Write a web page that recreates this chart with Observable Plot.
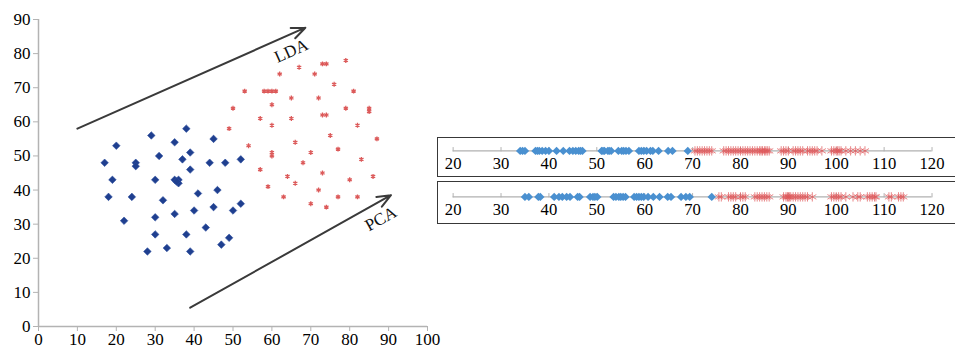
<!DOCTYPE html>
<html>
<head>
<meta charset="utf-8">
<script src="https://cdn.jsdelivr.net/npm/d3@7"></script>
<script src="https://cdn.jsdelivr.net/npm/@observablehq/plot@0.6"></script>
<style>
  html, body { margin: 0; padding: 0; background: #fff; overflow: hidden; }
  #wrap { position: relative; width: 955px; height: 348px; overflow: hidden; font-family: "Liberation Serif", serif; }
  .abs { position: absolute; }
  .box { position: absolute; box-sizing: border-box; border: 1.5px solid #383838; }
  svg text { font-family: "Liberation Serif", serif !important; }
</style>
</head>
<body>
<div id="wrap">
  <div class="box" style="left:437px; top:137px; width:600px; height:40px;"></div>
  <div class="box" style="left:437px; top:181px; width:600px; height:43px;"></div>
  <div id="main" class="abs" style="left:0; top:0;"></div>
  <div id="s1" class="abs" style="left:437px; top:137px;"></div>
  <div id="s2" class="abs" style="left:437px; top:183px;"></div>
</div>
<script>
// ---- scatter data (class 1: blue diamonds, class 2: red stars)
const blueX = [17, 20, 19, 18, 25, 25, 24, 22, 29, 31, 30, 32, 30, 30, 28, 33, 35, 38, 39, 37, 39, 35, 36, 36, 35.5, 35, 38, 39, 41, 40, 43, 45, 44, 46, 45, 47, 49, 48, 50, 52, 52];
const blueY = [48, 53, 43, 38, 48, 47, 38, 31, 56, 50, 43, 37, 32, 27, 22, 23, 54, 58, 51, 49, 46, 43, 43, 42, 42.5, 33, 27, 22, 39, 34, 29, 55, 48, 40, 35, 24, 26, 48, 34, 49, 36];
const redX = [49, 50, 53, 54, 57, 57, 59, 58, 59, 60, 61, 60, 60, 60, 60, 62, 63, 64, 65, 65, 66, 66, 67, 68, 70, 70, 71, 72, 72, 73, 74, 73, 74, 73, 74, 75, 76, 77, 77, 79, 79, 80, 81, 82, 82, 83, 85, 85, 86, 87];
const redY = [58, 64, 69, 53, 61, 46, 41, 69, 69, 69, 69, 65, 59, 51, 50, 74, 38, 44, 67, 61, 54, 42, 76, 48, 51, 36, 74, 67, 40, 77, 77, 62, 62, 45, 35, 56, 71, 52, 38, 78, 64, 43, 69, 59, 38, 49, 64, 63, 44, 55];

// ---- projection arrows and labels
const arrowNames = ["LDA", "PCA"];
const arrowX1 = [10, 39];
const arrowY1 = [58, 5.5];
const arrowX2 = [68.6, 90.6];
const arrowY2 = [87.6, 38.5];
const labelX = [65, 88];
const labelY = [80.8, 31.6];
const labelAngle = [-24, -29];

// ---- ticks
const xTicks = [0, 10, 20, 30, 40, 50, 60, 70, 80, 90, 100];
const yTicks = [0, 10, 20, 30, 40, 50, 60, 70, 80, 90];
const stripTicks = [20, 30, 40, 50, 60, 70, 80, 90, 100, 110, 120];

// ---- 1-D projections (top: LDA, bottom: PCA)
const ldaBlue = [34, 34.5, 35, 37.2, 37.6, 38, 38.6, 39.3, 40, 41.6, 43, 44.3, 45, 45.6, 46.2, 46.6, 47, 51, 51.3, 51.6, 52.3, 52.6, 53, 54.5, 55.2, 55.6, 56.1, 56.7, 58.8, 59.3, 59.8, 60.4, 61.2, 61.7, 62.9, 64.9, 65.8, 69];
const ldaRed = [70.5, 71, 71.5, 72, 72.5, 73, 73.5, 74, 76.5, 77, 77.5, 78, 78.5, 79, 79.5, 80, 80.5, 81, 81.5, 82, 82.5, 83, 83.5, 84, 84.3, 84.6, 85, 85.3, 85.6, 86, 88.5, 89, 89.5, 90, 91, 91.5, 92, 92.5, 93, 94, 94.5, 95, 95.5, 96, 97, 99, 99.5, 100, 100.3, 100.6, 101, 102, 103, 104, 105, 106];
const pcaBlue = [35, 35.8, 37.8, 38.2, 41.1, 42.1, 42.8, 43.7, 44.4, 46, 46.4, 48.6, 49.2, 49.6, 50.1, 53.5, 54, 54.6, 55, 55.5, 56, 57.8, 58.3, 58.8, 59.3, 59.8, 60.7, 61.8, 63.1, 64.8, 65.5, 67.6, 68.6, 69.4, 74];
const pcaRed = [75.5, 76, 77.5, 78, 78.5, 79, 80, 80.5, 81, 83, 83.5, 84, 84.5, 85, 85.5, 86, 89, 89.5, 89.8, 90, 90.2, 90.5, 91, 91.5, 92, 92.5, 93, 93.5, 94, 95, 99, 99.5, 100, 100.5, 101, 102, 103.5, 104.5, 105, 106.5, 107, 107.5, 108, 108.3, 111, 111.5, 113, 113.5, 114];

const blue = blueX.map((x, i) => ({x, y: blueY[i]}));
const red = redX.map((x, i) => ({x, y: redY[i]}));
const arrows = arrowNames.map((name, i) => ({name, x1: arrowX1[i], y1: arrowY1[i], x2: arrowX2[i], y2: arrowY2[i], lx: labelX[i], ly: labelY[i], rot: labelAngle[i]}));

const FONT = "Liberation Serif";

const main = Plot.plot({
  width: 440, height: 348,
  marginLeft: 38, marginRight: 13, marginTop: 19, marginBottom: 22,
  x: {domain: [0, 100]},
  y: {domain: [0, 90]},
  style: {fontFamily: FONT, fontSize: "17px", background: "transparent", color: "#000", overflow: "visible"},
  marks: [
    Plot.axisY({ticks: yTicks, tickSize: 5, tickPadding: 3, stroke: "#b3b3b3", fill: "#000", label: null, fontSize: 17, fontFamily: FONT}),
    Plot.axisX({ticks: xTicks, tickSize: 5, tickPadding: 1, stroke: "#b3b3b3", fill: "#000", label: null, fontSize: 17, fontFamily: FONT}),
    Plot.ruleX([0], {stroke: "#b3b3b3", strokeWidth: 1.5}),
    Plot.ruleY([0], {stroke: "#b3b3b3", strokeWidth: 1.5}),
    Plot.arrow(arrows, {x1: "x1", y1: "y1", x2: "x2", y2: "y2", stroke: "#3a3a3a", strokeWidth: 2, headLength: 11, headAngle: 45}),
    Plot.text(arrows, {x: "lx", y: "ly", text: "name", rotate: "rot", fontSize: 17, fontFamily: FONT, fill: "#111"}),
    Plot.dot(red, {x: "x", y: "y", symbol: "asterisk", r: 2.3, stroke: "#dc5a5a", strokeWidth: 1.3}),
    Plot.dot(blue, {x: "x", y: "y", symbol: "diamond2", r: 3.4, fill: "#1f3f8f", stroke: "#2d4f9f", strokeWidth: 0.6})
  ]
});
document.getElementById("main").append(main);

function strip(blueVals, redVals) {
  return Plot.plot({
    width: 530, height: 42,
    marginLeft: 16, marginRight: 24, marginTop: 4, marginBottom: 28.3,
    x: {domain: [20, 120]},
    y: {domain: [0, 1], axis: null},
    style: {fontFamily: FONT, fontSize: "17px", background: "transparent", color: "#000", overflow: "visible"},
    marks: [
      Plot.ruleY([0], {stroke: "#b0b0b0", strokeWidth: 1.2}),
      Plot.ruleX(stripTicks, {x: d => d, y1: -0.1, y2: 0.35, stroke: "#b0b0b0", strokeWidth: 1}),
      Plot.axisX({ticks: stripTicks, tickSize: 0, tickPadding: 6, fill: "#000", label: null, fontSize: 17, fontFamily: FONT}),
      Plot.dot(redVals, {x: d => d, y: 0, symbol: "asterisk", r: 4.5, stroke: "#e0585a", strokeOpacity: 0.75, strokeWidth: 1}),
      Plot.dot(blueVals, {x: d => d, y: 0, symbol: "diamond2", r: 3.9, fill: "#4a90d0"})
    ]
  });
}
document.getElementById("s1").append(strip(ldaBlue, ldaRed));
document.getElementById("s2").append(strip(pcaBlue, pcaRed));
</script>
</body>
</html>
